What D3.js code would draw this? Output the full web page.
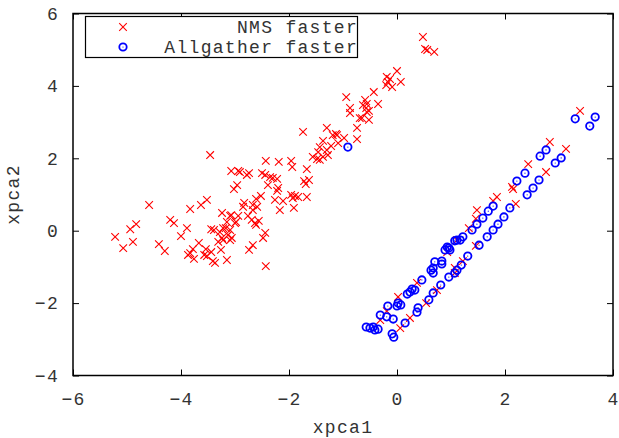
<!DOCTYPE html>
<html>
<head>
<meta charset="utf-8">
<script src="https://cdn.jsdelivr.net/npm/d3@7"></script>
<style>
  body { margin: 0; background: #fff; }
  text { font-family: "Liberation Mono", "Courier New", monospace; fill: #333; }
</style>
</head>
<body>
<svg id="visualization"></svg>
<script>
// Series names
const seriesNames = ["NMS faster", "Allgather faster"];

// Tick values
const xTicks = [-6, -4, -2, 0, 2, 4];
const yTicks = [-4, -2, 0, 2, 4, 6];

// NMS faster points [xpca1, xpca2]
const nmsPoints = [
  [-3.07, 1.65], [-2.94, 1.65], [-3.02, 1.15], [-2.96, 1.26], [-4.59, 0.71], [-3.83, 0.60],
  [-3.63, 0.71], [-3.52, 0.85], [-3.24, 0.49], [-3.07, 0.43], [-2.98, 0.24], [-3.15, 0.24],
  [-4.83, 0.18], [-4.94, 0.04], [-4.20, 0.30], [-4.13, 0.21], [-3.89, 0.07], [-5.22, -0.17],
  [-4.89, -0.31], [-5.07, -0.48], [-4.00, -0.15], [-4.41, -0.37], [-4.30, -0.56], [-3.44, 0.04],
  [-3.39, 0.02], [-3.28, -0.04], [-3.17, 0.07], [-3.09, 0.02], [-3.13, -0.12], [-3.31, -0.31],
  [-3.22, -0.26], [-3.09, -0.26], [-3.67, -0.34], [-3.78, -0.51], [-3.83, -0.62], [-3.87, -0.67],
  [-3.76, -0.78], [-3.54, -0.51], [-3.44, -0.59], [-3.57, -0.67], [-3.52, -0.70], [-3.26, -0.53],
  [-3.41, -0.84], [-3.37, -0.89], [-3.15, -0.81], [-3.46, 2.09],
  [-0.87, 3.25], [-0.56, 3.28], [-0.52, 3.06], [-0.65, 3.11], [-1.30, 2.84], [-1.74, 2.73],
  [-1.13, 2.67], [-0.74, 2.84], [-0.74, 2.53], [-0.98, 2.56], [-1.09, 2.42], [-1.22, 2.34],
  [-1.37, 2.48], [-1.43, 2.31], [-1.46, 2.17], [-1.30, 2.23], [-1.28, 2.09], [-1.37, 2.04],
  [-1.48, 1.98], [-1.56, 2.04], [-1.43, 1.96], [-2.43, 1.93], [-2.19, 1.90], [-1.96, 1.93],
  [-1.94, 1.76], [-1.67, 1.70], [-2.91, 1.62], [-2.74, 1.59], [-2.78, 1.54], [-2.50, 1.59],
  [-2.44, 1.54], [-2.35, 1.48], [-2.30, 1.46], [-2.39, 1.26], [-2.22, 1.43], [-1.72, 1.37],
  [-1.63, 1.40], [-1.69, 1.29], [-2.20, 1.18], [-2.22, 1.10], [-2.52, 0.96], [-2.61, 0.88],
  [-2.83, 0.77], [-2.85, 0.66], [-2.67, 0.71], [-2.59, 0.66], [-2.67, 0.57], [-2.26, 0.85],
  [-2.11, 0.82], [-1.96, 0.99], [-1.89, 0.96], [-1.83, 0.93], [-1.93, 0.90], [-1.67, 0.93],
  [-2.17, 0.57], [-1.91, 0.63], [-3.09, 0.41], [-2.94, 0.41], [-2.76, 0.41], [-2.69, 0.30],
  [-2.56, 0.27], [-2.63, 0.21], [-2.61, 0.16], [-3.00, 0.21], [-3.22, 0.07], [-3.06, -0.20],
  [-3.24, -0.20], [-2.44, -0.06], [-2.48, -0.20], [-2.67, -0.40], [-2.74, -0.53], [-2.43, -0.98],
  [0.48, 5.35], [0.52, 5.02], [0.56, 4.99], [0.69, 4.94], [0.00, 4.41], [-0.19, 4.25],
  [-0.13, 4.19], [0.07, 4.11], [-0.20, 4.02], [-0.09, 3.97], [-0.17, 4.11], [-0.43, 3.83],
  [-0.94, 3.69], [-0.59, 3.61], [-0.56, 3.50], [-0.35, 3.50], [-0.63, 3.47], [-0.57, 3.39],
  [-0.87, 3.39], [-0.52, 3.31], [-0.69, 3.11], [-1.19, 2.64], [-1.11, 2.64],
  [3.39, 3.31], [2.83, 2.45], [3.13, 2.26], [2.43, 1.84], [2.76, 1.62], [2.13, 1.21],
  [2.15, 1.15], [2.20, 0.74], [1.85, 0.93], [1.78, 0.82], [1.48, 0.57], [1.46, 0.33],
  [1.33, 0.07], [1.11, -0.26], [1.46, -0.42], [1.22, -0.84], [0.93, -0.59], [1.07, -1.03],
  [-0.31, -2.47], [0.02, -1.83], [0.37, -1.44], [-0.19, -2.22], [0.06, -2.69], [0.54, -2.00],
  [0.74, -1.64], [1.07, -1.17], [0.24, -2.41]
];

// Allgather faster points [xpca1, xpca2]
const allgatherPoints = [
  [-0.91, 2.31],
  [-0.50, -2.69], [-0.41, -2.74], [-0.44, -2.66], [-0.35, -2.72], [-0.57, -2.66], [-0.31, -2.33],
  [-0.19, -2.38], [-0.07, -2.44], [-0.17, -2.08], [0.02, -2.00], [0.07, -2.05], [0.00, -2.08],
  [0.19, -1.75], [0.28, -1.61], [0.33, -1.64], [0.24, -1.69], [0.46, -1.36], [0.63, -1.09],
  [0.67, -1.17], [0.70, -0.86], [0.83, -0.84], [0.83, -0.92], [0.89, -0.53], [0.96, -0.48],
  [1.07, -0.28], [0.93, -0.45], [0.98, -0.53], [0.67, -1.03], [1.11, -0.26], [1.17, -0.26],
  [1.22, -0.17], [1.39, 0.02], [1.48, 0.18], [1.59, 0.35], [1.69, 0.54], [1.78, 0.68],
  [2.22, 1.37], [2.37, 1.59], [2.65, 2.06], [2.76, 2.23], [3.30, 3.09],
  [-0.06, -2.94], [-0.09, -2.85], [0.15, -2.55], [0.37, -2.25], [0.39, -2.13], [0.59, -1.91],
  [0.67, -1.72], [0.81, -1.50], [0.96, -1.28], [1.07, -1.17], [1.11, -1.09], [1.19, -0.95],
  [1.31, -0.70], [1.52, -0.40], [1.67, -0.17], [1.78, 0.02], [1.87, 0.18], [1.98, 0.38],
  [2.09, 0.63], [2.41, 0.99], [2.52, 1.18], [2.63, 1.40], [2.93, 1.87], [3.04, 2.01],
  [3.57, 2.89], [3.67, 3.14]
];

// SVG dimensions and plot box
const width = 619;
const height = 438;
const margin = { top: 13.5, right: 6, bottom: 62.5, left: 73 };

// Text style: thin monospace, widened to the reference's character pitch
const fontSize = "18px";
const letterSpacing = "1.3px";

const svg = d3.select("#visualization")
  .attr("width", width)
  .attr("height", height);

// Scales
const xScale = d3.scaleLinear()
  .domain([-6, 4])
  .range([margin.left, width - margin.right]);

const yScale = d3.scaleLinear()
  .domain([-4, 6])
  .range([height - margin.bottom, margin.top]);

const fmt = d3.format("d");

// Bottom axis (ticks point inward)
const xAxis = svg.append("g")
  .attr("transform", `translate(0,${height - margin.bottom})`)
  .call(d3.axisBottom(xScale).tickValues(xTicks).tickSizeInner(-6).tickSizeOuter(0).tickFormat(fmt));
xAxis.selectAll("text").attr("y", 29.5).attr("dy", 0);

// Top axis, mirror ticks only
svg.append("g")
  .attr("transform", `translate(0,${margin.top})`)
  .call(d3.axisTop(xScale).tickValues(xTicks).tickSizeInner(-6).tickSizeOuter(0).tickFormat(""));

// Left axis
const yAxis = svg.append("g")
  .attr("transform", `translate(${margin.left},0)`)
  .call(d3.axisLeft(yScale).tickValues(yTicks).tickSizeInner(-6).tickSizeOuter(0).tickFormat(fmt));
yAxis.selectAll("text").attr("x", -14);

// Right axis, mirror ticks only
svg.append("g")
  .attr("transform", `translate(${width - margin.right},0)`)
  .call(d3.axisRight(yScale).tickValues(yTicks).tickSizeInner(-6).tickSizeOuter(0).tickFormat(""));

svg.selectAll(".domain").remove();
svg.selectAll(".tick line").attr("stroke", "#000");
svg.selectAll(".tick text")
  .attr("fill", "#333")
  .style("font-family", "Liberation Mono")
  .style("font-size", fontSize)
  .style("letter-spacing", letterSpacing);

// Plot border
svg.append("rect")
  .attr("x", xScale(-6))
  .attr("y", yScale(6))
  .attr("width", xScale(4) - xScale(-6))
  .attr("height", yScale(-4) - yScale(6))
  .attr("fill", "none")
  .attr("stroke", "#000")
  .attr("stroke-width", 1.5);

// Marker helpers
function drawCross(g, cx, cy) {
  const s = 3.8;
  g.append("path")
    .attr("d", `M${cx - s},${cy - s}L${cx + s},${cy + s}M${cx - s},${cy + s}L${cx + s},${cy - s}`)
    .attr("stroke", "#ff0000")
    .attr("stroke-width", 1.1)
    .attr("fill", "none");
}

function drawCircle(g, cx, cy) {
  g.append("circle")
    .attr("cx", cx).attr("cy", cy).attr("r", 3.7)
    .attr("fill", "none")
    .attr("stroke", "#0000ff")
    .attr("stroke-width", 1.8);
  g.append("circle")
    .attr("cx", cx).attr("cy", cy).attr("r", 0.6)
    .attr("fill", "#0000ff");
}

// Draw NMS points first, then Allgather on top
const nmsLayer = svg.append("g");
nmsPoints.forEach(d => drawCross(nmsLayer, xScale(d[0]), yScale(d[1])));

const agLayer = svg.append("g");
allgatherPoints.forEach(d => drawCircle(agLayer, xScale(d[0]), yScale(d[1])));

// Legend
const legend = svg.append("g");
legend.append("rect")
  .attr("x", 85.5).attr("y", 16.5)
  .attr("width", 272).attr("height", 41)
  .attr("fill", "#fff")
  .attr("stroke", "#000")
  .attr("stroke-width", 1.2);

drawCross(legend, 123, 27);
drawCircle(legend, 123, 47);

legend.selectAll(".legend-label")
  .data(seriesNames)
  .enter()
  .append("text")
  .attr("class", "legend-label")
  .attr("x", 358)
  .attr("y", (d, i) => 32.5 + i * 20.5)
  .attr("text-anchor", "end")
  .style("font-size", fontSize)
  .style("letter-spacing", letterSpacing)
  .text(d => d);

// Axis labels
svg.append("text")
  .attr("x", (xScale(-6) + xScale(4)) / 2)
  .attr("y", 433)
  .attr("text-anchor", "middle")
  .style("font-size", fontSize)
  .style("letter-spacing", letterSpacing)
  .text("xpca1");

svg.append("text")
  .attr("transform", `translate(19,${(yScale(-4) + yScale(6)) / 2}) rotate(-90)`)
  .attr("text-anchor", "middle")
  .style("font-size", fontSize)
  .style("letter-spacing", letterSpacing)
  .text("xpca2");
</script>
</body>
</html>
